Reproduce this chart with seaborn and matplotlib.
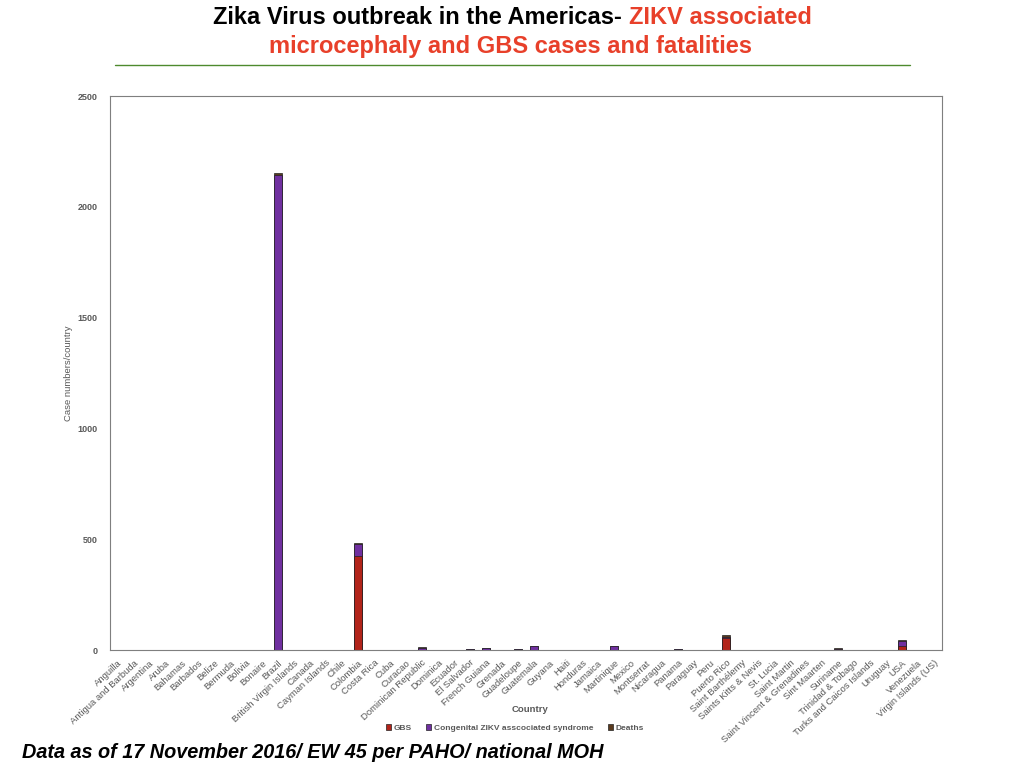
import numpy as np
import pandas as pd
import matplotlib
matplotlib.use("Agg")
import matplotlib.pyplot as plt
from matplotlib.lines import Line2D
from matplotlib.patches import Patch
import seaborn as sns

# dados
countries = [
    "Anguilla", "Antigua and Barbuda", "Argentina", "Aruba", "Bahamas", "Barbados",
    "Belize", "Bermuda", "Bolivia", "Bonaire", "Brazil", "British Virgin Islands",
    "Canada", "Cayman Islands", "Chile", "Colombia", "Costa Rica", "Cuba", "Curacao",
    "Dominican Republic", "Dominica", "Ecuador", "El Salvador", "French Guiana",
    "Grenada", "Guadeloupe", "Guatemala", "Guyana", "Haiti", "Honduras", "Jamaica",
    "Martinique", "Mexico", "Montserrat", "Nicaragua", "Panama", "Paraguay", "Peru",
    "Puerto Rico", "Saint Barthélemy", "Saints Kitts & Nevis", "St. Lucia",
    "Saint Martin", "Saint Vincent & Grenadines", "Sint Maarten", "Suriname",
    "Trinidad & Tobago", "Turks and Caicos Islands", "Uruguay", "USA", "Venezuela",
    "Virgin Islands (US)",
]
gbs = [0, 0, 0, 0, 0, 0, 0, 0, 0, 0, 0, 0,
       0, 0, 0, 424, 0, 0, 0,
       0, 0, 0, 0, 0,
       0, 0, 0, 0, 0, 0, 0,
       0, 0, 0, 0, 0, 0, 0,
       56, 0, 0, 0,
       0, 0, 0, 0,
       0, 0, 0, 18, 0,
       0]
congenital = [0, 0, 2, 0, 0, 0, 0, 0, 2, 0, 2142, 0,
              1, 0, 0, 56, 2, 0, 0,
              10, 0, 0, 4, 10,
              2, 3, 16, 0, 2, 2, 0,
              16, 2, 0, 0, 5, 2, 0,
              2, 0, 0, 0,
              0, 0, 2, 3,
              0, 0, 0, 24, 0,
              0]
deaths = [0, 0, 0, 0, 0, 0, 0, 0, 0, 0, 10, 0,
          0, 0, 0, 3, 0, 0, 0,
          2, 0, 0, 0, 0,
          0, 0, 2, 0, 0, 0, 0,
          0, 0, 0, 0, 0, 0, 0,
          8, 0, 0, 0,
          0, 0, 0, 4,
          0, 0, 0, 5, 0,
          0]

df = pd.DataFrame({"Country": countries, "GBS": gbs,
                   "Congenital": congenital, "Deaths": deaths})
# totais acumulados para empilhar as barras
df["c1"] = df["GBS"]
df["c2"] = df["GBS"] + df["Congenital"]
df["c3"] = df["c2"] + df["Deaths"]

cor_gbs = "#B2241A"
cor_cong = "#7030A0"
cor_mortes = "#5A3A1E"
cinza = "#595959"

sns.set_style("white")
plt.rcParams["font.family"] = ["Liberation Sans", "DejaVu Sans"]

fig = plt.figure(figsize=(10.24, 7.68), dpi=100)
ax = fig.add_axes([0.1074, 0.1536, 0.8125, 0.7214])

for col, cor in [("c3", cor_mortes), ("c2", cor_cong), ("c1", cor_gbs)]:
    sns.barplot(data=df, x="Country", y=col, color=cor, width=0.5,
                edgecolor="#222222", linewidth=0.5, saturation=1, ax=ax)

ax.set_ylim(0, 2500)
ax.set_xlim(-0.5, len(countries) - 0.5)
ax.set_yticks([0, 500, 1000, 1500, 2000, 2500])
ax.tick_params(axis="y", labelsize=6.5, colors=cinza, length=0, pad=9)
for t in ax.get_yticklabels():
    t.set_fontweight("bold")
ax.tick_params(axis="x", labelsize=6.8, colors=cinza, length=2, width=0.6, pad=4)
plt.setp(ax.get_xticklabels(), rotation=43, ha="right", rotation_mode="anchor")

for s in ax.spines.values():
    s.set_visible(True)
    s.set_color("#7F7F7F")
    s.set_linewidth(0.8)

ax.set_ylabel("Case numbers/country", fontsize=6.8, color=cinza, labelpad=3)
ax.set_xlabel("")
fig.text(0.518, 1 - 709 / 768, "Country", fontsize=6.8, color=cinza,
         fontweight="bold", ha="center", va="center")

# legenda
handles = [Patch(facecolor=cor_gbs, edgecolor="#222222", linewidth=0.5),
           Patch(facecolor=cor_cong, edgecolor="#222222", linewidth=0.5),
           Patch(facecolor=cor_mortes, edgecolor="#222222", linewidth=0.5)]
labels = ["GBS", "Congenital ZIKV asscociated syndrome", "Deaths"]
leg = fig.legend(handles, labels, loc="center", bbox_to_anchor=(0.503, 1 - 728 / 768),
                 ncol=3, frameon=False, fontsize=6, handlelength=0.6,
                 handleheight=0.6, handletextpad=0.3, columnspacing=1.8)
for t in leg.get_texts():
    t.set_color(cinza)
    t.set_fontweight("bold")

# titulo em duas cores
fig.text(0.614, 1 - 17 / 768, "Zika Virus outbreak in the Americas- ",
         fontsize=17, fontweight="bold", color="black", ha="right", va="center")
fig.text(0.614, 1 - 17 / 768, "ZIKV associated",
         fontsize=17, fontweight="bold", color="#E8402A", ha="left", va="center")
fig.text(0.499, 1 - 46 / 768, "microcephaly and GBS cases and fatalities",
         fontsize=17, fontweight="bold", color="#E8402A", ha="center", va="center")
fig.add_artist(Line2D([115 / 1024, 910 / 1024], [1 - 65 / 768, 1 - 65 / 768],
                      color="#4E8A2E", linewidth=1.0))

# rodape
fig.text(0.021, 1 - 752 / 768, "Data as of 17 November 2016/ EW 45 per PAHO/ national MOH",
         fontsize=14.3, fontweight="bold", fontstyle="italic", color="black",
         ha="left", va="center")

fig.savefig("out.png", dpi=100)
